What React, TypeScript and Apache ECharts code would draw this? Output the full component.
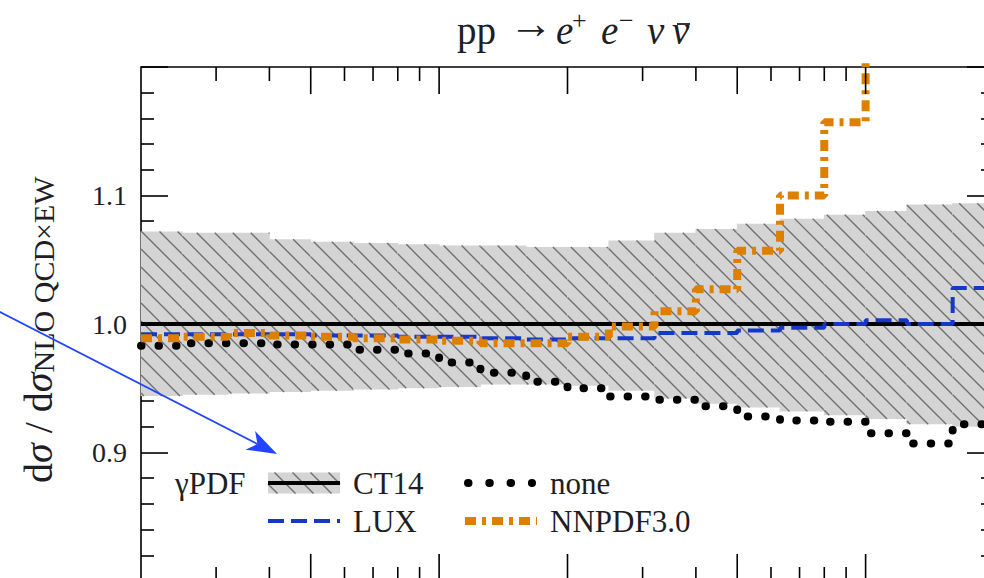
import React, { useEffect, useRef } from 'react';
import * as echarts from 'echarts';

// histogram bin edges (log-spaced, 20 bins)
const binEdges = [20, 25, 32, 40, 50, 63, 80, 100, 125, 160, 200, 250, 320, 400, 500, 630, 800, 1000, 1250, 1600, 2000];
// CT14 uncertainty band (upper / lower edge) and central value
const ct14Upper = [1.072, 1.071, 1.071, 1.066, 1.064, 1.063, 1.062, 1.061, 1.061, 1.060, 1.060, 1.065, 1.071, 1.074, 1.078, 1.082, 1.085, 1.088, 1.093, 1.094];
const ct14Lower = [0.944, 0.945, 0.946, 0.947, 0.948, 0.949, 0.950, 0.951, 0.953, 0.953, 0.952, 0.948, 0.942, 0.938, 0.935, 0.932, 0.929, 0.926, 0.922, 0.920];
const ct14Central = [1, 1, 1, 1, 1, 1, 1, 1, 1, 1, 1, 1, 1, 1, 1, 1, 1, 1, 1, 1];
const noneRatio = [0.983, 0.985, 0.985, 0.984, 0.984, 0.980, 0.977, 0.970, 0.962, 0.955, 0.950, 0.9435, 0.941, 0.936, 0.928, 0.925, 0.924, 0.915, 0.907, 0.922];
const luxRatio = [0.992, 0.992, 0.992, 0.992, 0.991, 0.991, 0.990, 0.990, 0.989, 0.988, 0.989, 0.989, 0.993, 0.993, 0.995, 0.997, 1.000, 1.003, 1.000, 1.028];
const nnpdfRatio = [0.989, 0.990, 0.993, 0.991, 0.990, 0.989, 0.988, 0.987, 0.985, 0.985, 0.990, 0.998, 1.010, 1.027, 1.057, 1.100, 1.157, 1.26, 1.35, 1.45];

const xMajorTicks = [50, 100, 200, 500, 1000];
const xMinorTicks = [30, 40, 60, 70, 80, 90, 300, 400, 600, 700, 800, 900];
const yLabelValues = [0.9, 1.0, 1.1];

const titleParts = ['pp', '→', 'e', '+', 'e', '−', 'ν', 'ν'];
const legendHeader = 'γPDF';
const legendNames = ['CT14', 'LUX', 'none', 'NNPDF3.0'];
const yTitleMain = ['d', 'σ', ' / d', 'σ'];
const yTitleSub = 'NLO QCD×EW';

const X_MIN = 20;
const X_MAX = 2000;
const Y_MIN = 0.8;
const Y_MAX = 1.2;

const SERIF = '"Liberation Serif", "DejaVu Serif", serif';
const TEXT = '#1e1e26';
const BLUE = '#1638c8';
const ORANGE = '#dd8000';
const ARROW = '#2244ff';
const BAND_FILL = '#d4d4d4';
const HATCH = '#707070';
const HATCH_STEP = 18;

function stepData(values: number[]) {
  return binEdges.map((x, i) => [x, values[Math.min(i, values.length - 1)]]);
}

// diagonal ("\") hatch segments clipped to a pixel rectangle
function hatchLines(X0: number, Y0: number, X1: number, Y1: number) {
  const out: any[] = [];
  const kMin = Math.floor((Y0 - X1) / HATCH_STEP) - 1;
  const kMax = Math.ceil((Y1 - X0) / HATCH_STEP) + 1;
  for (let k = kMin; k <= kMax; k++) {
    const c = k * HATCH_STEP; // y = x + c
    const xa = Math.max(X0, Y0 - c);
    const xb = Math.min(X1, Y1 - c);
    if (xb > xa) {
      out.push({
        type: 'line',
        shape: { x1: xa, y1: xa + c, x2: xb, y2: xb + c },
        style: { stroke: HATCH, lineWidth: 1.4 },
      });
    }
  }
  return out;
}

function txt(x: number, y: number, text: string, font: string, extra: any = {}) {
  return {
    type: 'text',
    x,
    y,
    z: 20,
    style: {
      text,
      font,
      fill: TEXT,
      align: 'left',
      verticalAlign: 'middle',
      textAlign: 'left',
      textVerticalAlign: 'middle',
      ...extra,
    },
  };
}

export default function App() {
  const ref = useRef<HTMLDivElement>(null);

  useEffect(() => {
    if (!ref.current) return;
    const chart = echarts.init(ref.current, undefined, { renderer: 'svg' });

    const bandData = ct14Lower.map((lo, i) => [binEdges[i], binEdges[i + 1], lo, ct14Upper[i]]);

    const tickData = [
      ...xMajorTicks.map((v) => [v, 1, 1]),
      ...xMinorTicks.map((v) => [v, 1, 0]),
    ];

    const yAxisCommon: any = {
      type: 'value',
      min: Y_MIN,
      max: Y_MAX,
      interval: 0.1,
      axisLine: { show: false },
      splitLine: { show: false },
      axisTick: { show: true, inside: true, length: 27, lineStyle: { color: '#000', width: 1.6 } },
      minorTick: { show: true, splitNumber: 5, length: 13, lineStyle: { color: '#000', width: 1.6 } },
    };

    // arrow geometry (annotation)
    const ax0 = -5, ay0 = 309.4, ax1 = 277, ay1 = 454;
    const dx = ax1 - ax0, dy = ay1 - ay0;
    const L = Math.sqrt(dx * dx + dy * dy);
    const ux = dx / L, uy = dy / L;
    const px = -uy, py = ux;
    const headLen = 30, headW = 10.5;
    const bx = ax1 - headLen * ux, by = ay1 - headLen * uy;
    const ix = ax1 - 22 * ux, iy = ay1 - 22 * uy;

    const legX1 = 268, legX2 = 340, legX3 = 465, legX4 = 537;
    const row1 = 483, row2 = 521;
    const legFont = `31px ${SERIF}`;

    const titleFont = `39px ${SERIF}`;
    const titleItal = `italic 39px ${SERIF}`;
    const supFont = `26px ${SERIF}`;
    const tY = 30;

    const option: any = {
      animation: false,
      backgroundColor: '#fff',
      grid: {
        left: 141,
        right: 0,
        top: 67,
        bottom: 0,
        show: true,
        borderColor: '#000',
        borderWidth: 1.6,
        backgroundColor: 'transparent',
        containLabel: false,
      },
      xAxis: {
        type: 'log',
        logBase: 10,
        min: X_MIN,
        max: X_MAX,
        axisLine: { show: false },
        axisTick: { show: false },
        axisLabel: { show: false },
        splitLine: { show: false },
      },
      yAxis: [
        {
          ...yAxisCommon,
          position: 'left',
          axisLabel: {
            show: true,
            margin: 14,
            fontFamily: SERIF,
            fontSize: 28,
            color: TEXT,
            formatter: (v: number) => {
              const hit = yLabelValues.find((t) => Math.abs(t - v) < 1e-6);
              return hit !== undefined ? hit.toFixed(1) : '';
            },
          },
        },
        {
          ...yAxisCommon,
          position: 'right',
          axisLabel: { show: false },
        },
      ],
      series: [
        {
          name: 'CT14 band',
          type: 'custom',
          data: bandData,
          encode: { x: [0, 1], y: [2, 3] },
          silent: true,
          z: 1,
          renderItem: (params: any, api: any) => {
            const x0 = api.value(0), x1 = api.value(1), lo = api.value(2), hi = api.value(3);
            const pA = api.coord([x0, hi]);
            const pB = api.coord([x1, lo]);
            const X0 = pA[0], Y0 = pA[1], X1 = pB[0], Y1 = pB[1];
            return {
              type: 'group',
              children: [
                {
                  type: 'rect',
                  shape: { x: X0 - 0.4, y: Y0, width: X1 - X0 + 0.8, height: Y1 - Y0 },
                  style: { fill: BAND_FILL },
                },
                ...hatchLines(X0, Y0, X1, Y1),
              ],
            };
          },
        },
        {
          name: legendNames[0],
          type: 'line',
          data: stepData(ct14Central),
          step: 'end',
          symbol: 'none',
          z: 3,
          lineStyle: { color: '#000', width: 4 },
        },
        {
          name: legendNames[2],
          type: 'line',
          data: stepData(noneRatio),
          step: 'end',
          symbol: 'none',
          z: 3,
          lineStyle: { color: '#000', width: 8, type: [0.5, 17], cap: 'round' },
        },
        {
          name: legendNames[1],
          type: 'line',
          data: stepData(luxRatio),
          step: 'end',
          symbol: 'none',
          z: 3,
          lineStyle: { color: BLUE, width: 4, type: [16, 7] },
        },
        {
          name: legendNames[3],
          type: 'line',
          data: stepData(nnpdfRatio),
          step: 'end',
          symbol: 'none',
          z: 3,
          lineStyle: { color: ORANGE, width: 8, type: [11, 6, 4, 6] },
        },
        {
          name: 'xticks',
          type: 'custom',
          data: tickData,
          encode: { x: 0, y: 1 },
          silent: true,
          clip: false,
          z: 5,
          renderItem: (params: any, api: any) => {
            const x = api.value(0);
            const major = api.value(2);
            const top = api.coord([x, Y_MAX]);
            const bot = api.coord([x, Y_MIN]);
            const len = major ? 27 : 14;
            const st = { stroke: '#000', lineWidth: 1.6 };
            return {
              type: 'group',
              children: [
                { type: 'line', shape: { x1: top[0], y1: top[1], x2: top[0], y2: top[1] + len }, style: st },
                { type: 'line', shape: { x1: bot[0], y1: bot[1], x2: bot[0], y2: bot[1] - len }, style: st },
              ],
            };
          },
        },
      ],
      graphic: [
        // title
        txt(457, tY, titleParts[0], titleFont),
        txt(509, 23, titleParts[1], `44px ${SERIF}`),
        txt(556, tY, titleParts[2], titleItal),
        txt(572, 20, titleParts[3], supFont),
        txt(601, tY, titleParts[4], titleItal),
        txt(619, 20, titleParts[5], supFont),
        txt(647, tY, titleParts[6], titleItal),
        txt(672, tY, titleParts[7], titleItal),
        { type: 'line', z: 20, shape: { x1: 677, y1: 24, x2: 690, y2: 24 }, style: { stroke: TEXT, lineWidth: 1.8 } },
        // y-axis title (rotated)
        {
          type: 'text',
          x: 38.5,
          y: 483,
          rotation: Math.PI / 2,
          z: 20,
          style: {
            text: `{u|${yTitleMain[0]}}{i|${yTitleMain[1]}}{u|${yTitleMain[2]}}{i|${yTitleMain[3]}}{s|${yTitleSub}}`,
            align: 'left',
            verticalAlign: 'middle',
            textAlign: 'left',
            textVerticalAlign: 'middle',
            rich: {
              u: { fontFamily: SERIF, fontSize: 40, lineHeight: 40, fill: TEXT, color: TEXT },
              i: { fontFamily: SERIF, fontSize: 40, fontStyle: 'italic', lineHeight: 40, fill: TEXT, color: TEXT },
              s: { fontFamily: SERIF, fontSize: 30, lineHeight: 21, verticalAlign: 'bottom', fill: TEXT, color: TEXT },
            },
          },
        },
        // annotation arrow
        {
          type: 'line',
          shape: { x1: ax0, y1: ay0, x2: ix, y2: iy },
          style: { stroke: ARROW, lineWidth: 1.8 },
          z: 20,
        },
        {
          type: 'polygon',
          shape: {
            points: [
              [ax1, ay1],
              [bx + headW * px, by + headW * py],
              [ix, iy],
              [bx - headW * px, by - headW * py],
            ],
          },
          style: { fill: ARROW },
          z: 20,
        },
        // legend
        txt(175, row1, legendHeader, legFont),
        {
          type: 'group',
          z: 20,
          children: [
            { type: 'rect', shape: { x: legX1, y: row1 - 10.5, width: legX2 - legX1, height: 21 }, style: { fill: BAND_FILL } },
            ...hatchLines(legX1, row1 - 10.5, legX2, row1 + 10.5),
          ],
        },
        {
          type: 'line',
          shape: { x1: legX1, y1: row1, x2: legX2, y2: row1 },
          style: { stroke: '#000', lineWidth: 4 },
          z: 21,
        },
        {
          type: 'line',
          shape: { x1: legX1, y1: row2, x2: legX2, y2: row2 },
          style: { stroke: BLUE, lineWidth: 4, lineDash: [16, 7] },
          z: 21,
        },
        {
          type: 'line',
          shape: { x1: 468, y1: row1, x2: 532, y2: row1 },
          style: { stroke: '#000', lineWidth: 8, lineDash: [0.5, 20.8], lineCap: 'round' },
          z: 21,
        },
        {
          type: 'line',
          shape: { x1: legX3, y1: row2, x2: legX4, y2: row2 },
          style: { stroke: ORANGE, lineWidth: 8, lineDash: [11, 6, 4, 6] },
          z: 21,
        },
        txt(353, row1, legendNames[0], legFont),
        txt(353, row2, legendNames[1], legFont),
        txt(550, row1, legendNames[2], legFont),
        txt(550, row2, legendNames[3], legFont),
      ],
    };

    chart.setOption(option);
    return () => {
      chart.dispose();
    };
  }, []);

  return (
    <div style={{ position: 'absolute', left: 0, top: 0, width: 984, height: 578, overflow: 'hidden' }}>
      <div ref={ref} style={{ position: 'absolute', left: 0, top: 0, width: 994, height: 581 }} />
    </div>
  );
}
